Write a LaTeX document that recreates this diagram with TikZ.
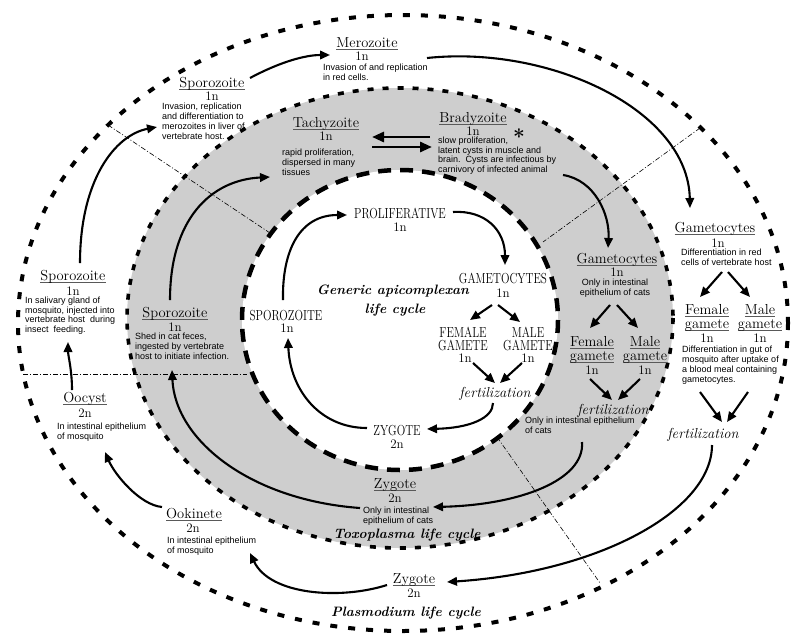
\documentclass[tikz,border=0pt]{standalone}
\usepackage{fontspec}
\usepackage{graphicx}
\newfontfamily\arialf{Liberation Sans}
\usetikzlibrary{arrows.meta}
\definecolor{ringgray}{RGB}{206,206,206}
\newcommand\myul[1]{\setbox0\hbox{#1}\rlap{\color{black!65}\rule[-2.2pt]{\wd0}{0.6pt}}\box0}
\newcommand\hdfont{\fontsize{14.5}{15}\selectfont}
\newcommand\capsc[1]{\scalebox{0.77}[1]{#1}}
\begin{document}
\begin{tikzpicture}[x=1pt,y=-1pt,
  hd/.style={font=\hdfont, anchor=base, inner sep=0pt},
  ploidy/.style={font=\fontsize{13}{14}\selectfont, anchor=base, inner sep=0pt},
  desc/.style={font=\arialf\fontsize{9}{9.8}\selectfont, align=left, anchor=north west, inner sep=0pt},
  descc/.style={desc, align=center, anchor=north},
  ttl/.style={font=\fontsize{13.6}{15}\selectfont\bfseries\itshape, anchor=base, inner sep=0pt},
  fert/.style={font=\hdfont\itshape, anchor=base, inner sep=0pt},
  arr/.style={line width=2.1pt, -{Triangle[length=10pt,width=8.5pt]}},
  darr/.style={line width=2.8pt, -{Triangle[length=12pt,width=10pt]}},
  outerb/.style={line width=4pt, dash pattern=on 7pt off 11pt},
  midb/.style={line width=3.6pt, dash pattern=on 6pt off 9pt},
  innerb/.style={line width=4.5pt, dash pattern=on 13pt off 9pt},
  sect/.style={line width=0.6pt, dash pattern=on 5pt off 2pt on 1pt off 2pt},
]
\useasboundingbox (0,0) rectangle (800,643);
\fill[white] (0,0) rectangle (800,643);
% rings
\draw[outerb] (403,323) ellipse [x radius=385, y radius=308];
\fill[ringgray] (400,318) ellipse [x radius=273, y radius=230];
\draw[midb] (400,318) ellipse [x radius=273, y radius=230];
\fill[white] (400,320) ellipse [x radius=158, y radius=150];
\draw[innerb] (400,320) ellipse [x radius=158, y radius=150];
% section lines
\coordinate (s1a) at (108,125); \coordinate (s1b) at (270,233);
\coordinate (s2a) at (23,374);  \coordinate (s2b) at (247,374);
\coordinate (s3a) at (700,128); \coordinate (s3b) at (543,242);
\coordinate (s4a) at (497,437); \coordinate (s4b) at (600,583);
\draw[sect] (s1a) -- (s1b);
\draw[sect] (s2a) -- (s2b);
\draw[sect] (s3a) -- (s3b);
\draw[sect] (s4a) -- (s4b);

% ---------- Plasmodium ----------
\node[hd] (mero) at (367,47) {\myul{Merozoite}};
\node[ploidy] (mero1) at (362,60) {1n};
\node[desc] (merod) at (323,63.5) {Invasion of and replication\\in red cells.};

\node[hd] (spl) at (212,87.5) {\myul{Sporozoite}};
\node[ploidy] (spl1) at (212,100) {1n};
\node[desc] (spld) at (162,103) {Invasion, replication\\and differentiation to\\merozoites in liver of\\vertebrate host.};

\node[hd] (gamp) at (715,232) {\myul{Gametocytes}};
\node[ploidy] (gamp1) at (718,247) {1n};
\node[desc] (gampd) at (681,249) {Differentiation in red\\cells of vertebrate host};

\node[hd] (fgp) at (707,314.5) {\myul{Female}};
\node[hd] (fgpb) at (707,328) {\myul{gamete}};
\node[ploidy] (fgp1) at (707,342) {1n};
\node[hd] (mgp) at (760,314.5) {\myul{Male}};
\node[hd] (mgpb) at (760,328) {\myul{gamete}};
\node[ploidy] (mgp1) at (760,342) {1n};
\node[desc] (gmpd) at (682,346) {Differentiation in gut of\\mosquito after uptake of\\a blood meal containing\\gametocytes.};
\node[fert] (fertp) at (703,438) {fertilization};

\node[hd] (zygp) at (414,583) {\myul{Zygote}};
\node[ploidy] (zygp2) at (414,597) {2n};
\node[ttl] (plt) at (406,616) {Plasmodium life cycle};

\node[hd] (ook) at (194,518) {\myul{Ookinete}};
\node[ploidy] (ook2) at (193,532) {2n};
\node[desc] (ookd) at (167,537) {In intestinal epithelium\\of mosquito};

\node[hd] (ooc) at (85,402) {\myul{Oocyst}};
\node[ploidy] (ooc2) at (85,417) {2n};
\node[desc] (oocd) at (57,423) {In intestinal epithelium\\of mosquito};

\node[hd] (sps) at (73,280) {\myul{Sporozoite}};
\node[ploidy] (sps1) at (73,295) {1n};
\node[desc] (spsd) at (25,296.5) {In salivary gland of\\mosquito, injected into\\vertebrate host\ \ during\\insect\ \ feeding.};

% ---------- Toxoplasma ----------
\node[hd] (tach) at (326,127) {\myul{Tachyzoite}};
\node[ploidy] (tach1) at (326,140) {1n};
\node[desc] (tachd) at (282,149) {rapid proliferation,\\dispersed in many\\tissues};

\node[hd] (brad) at (473,122) {\myul{Bradyzoite}};
\node[ploidy] (brad1) at (473,135) {1n};
\node[anchor=north, inner sep=0pt, font=\fontsize{21}{21}\selectfont\bfseries] (ast) at (519,129) {*};
\node[desc] (bradd) at (438,136.5) {slow proliferation,\\latent cysts in muscle and\\brain.\ \ Cysts are infectious by\\carnivory of infected animal};

\node[hd] (gamt) at (617,263) {\myul{Gametocytes}};
\node[ploidy] (gamt1) at (617,276) {1n};
\node[descc] (gamtd) at (615,279) {Only in intestinal\\epithelium of cats};

\node[hd] (fgt) at (592,346.5) {\myul{Female}};
\node[hd] (fgtb) at (592,360.5) {\myul{gamete}};
\node[ploidy] (fgt1) at (592,374.5) {1n};
\node[hd] (mgt) at (645,346.5) {\myul{Male}};
\node[hd] (mgtb) at (645,360.5) {\myul{gamete}};
\node[ploidy] (mgt1) at (645,374.5) {1n};
\node[fert] (fertt) at (613,414) {fertilization};
\node[desc] (ferttd) at (525,417) {Only in intestinal epithelium\\of cats};

\node[hd] (zygt) at (395,488) {\myul{Zygote}};
\node[ploidy] (zygt2) at (395,502) {2n};
\node[desc] (zygtd) at (363,507) {Only in intestinal\\epithelium of cats};
\node[ttl] (tlt) at (407,538) {Toxoplasma life cycle};

\node[hd] (spt) at (175,317) {\myul{Sporozoite}};
\node[ploidy] (spt1) at (175,331) {1n};
\node[desc] (sptd) at (135,333) {Shed in cat feces,\\ingested by vertebrate\\host to initiate infection.};

% ---------- Generic ----------
\node[hd] (gprol) at (400,218) {\capsc{PROLIFERATIVE}};
\node[ploidy] (gprol1) at (400,231) {1n};
\node[hd] (ggam) at (503,283) {\capsc{GAMETOCYTES}};
\node[ploidy] (ggam1) at (503,297) {1n};
\node[hd] (gfem) at (463,337) {\capsc{FEMALE}};
\node[hd] (gfemb) at (463,350) {\capsc{GAMETE}};
\node[ploidy] (gfem1) at (465,362.5) {1n};
\node[hd] (gmal) at (528,337) {\capsc{MALE}};
\node[hd] (gmalb) at (528,350) {\capsc{GAMETE}};
\node[ploidy] (gmal1) at (528,362.5) {1n};
\node[fert] (gfert) at (495,397) {fertilization};
\node[hd] (gzyg) at (397,435) {\capsc{ZYGOTE}};
\node[ploidy] (gzyg2) at (397,448) {2n};
\node[hd] (gspo) at (286,320) {\capsc{SPOROZOITE}};
\node[ploidy] (gspo1) at (287,332.5) {1n};
\node[ttl] (gt1) at (393,294) {Generic apicomplexan};
\node[ttl] (gt2) at (395,313) {life cycle};

% ---------- arrows: Plasmodium ----------
\coordinate (p1s) at (250,78);  \coordinate (p1e) at (330,55);
\draw[arr] (p1s) .. controls (280,62) and (305,55) .. (p1e);
\coordinate (p2s) at (427,58);  \coordinate (p2e) at (690,208);
\draw[arr] (p2s) .. controls (550,45) and (688,110) .. (p2e);
\coordinate (p3s) at (80,263);  \coordinate (p3e) at (157,127);
\draw[arr] (p3s) .. controls (80,180) and (115,135) .. (p3e);
\coordinate (p4s) at (72,390);  \coordinate (p4e) at (68,342);
\draw[arr] (p4s) .. controls (72,370) and (68,355) .. (p4e);
\coordinate (p5s) at (162,507); \coordinate (p5e) at (105,452);
\draw[arr] (p5s) .. controls (140,505) and (115,475) .. (p5e);
\coordinate (p6s) at (387,585); \coordinate (p6e) at (250,553);
\draw[arr] (p6s) .. controls (340,600) and (270,595) .. (p6e);
\coordinate (p7s) at (712,445); \coordinate (p7e) at (447,582);
\draw[arr] (p7s) .. controls (712,510) and (600,572) .. (p7e);
\coordinate (p8a) at (722,272); \coordinate (p8b) at (700,297);
\coordinate (p8c) at (728,272); \coordinate (p8d) at (750,297);
\draw[arr] (p8a) -- (p8b);
\draw[arr] (p8c) -- (p8d);
\coordinate (p9a) at (700,392); \coordinate (p9b) at (722,422);
\coordinate (p9c) at (748,392); \coordinate (p9d) at (727,422);
\draw[arr] (p9a) -- (p9b);
\draw[arr] (p9c) -- (p9d);

% ---------- arrows: Toxoplasma ----------
\coordinate (t1s) at (170,300); \coordinate (t1e) at (270,177);
\draw[arr] (t1s) .. controls (170,220) and (210,180) .. (t1e);
\coordinate (t2a) at (430,137); \coordinate (t2b) at (372,137);
\coordinate (t2c) at (372,147); \coordinate (t2d) at (432,147);
\draw[darr] (t2a) -- (t2b);
\draw[darr] (t2c) -- (t2d);
\coordinate (t3s) at (563,175); \coordinate (t3e) at (608,248);
\draw[arr] (t3s) .. controls (595,180) and (610,215) .. (t3e);
\coordinate (t4a) at (610,305); \coordinate (t4b) at (590,328);
\coordinate (t4c) at (617,305); \coordinate (t4d) at (638,328);
\draw[arr] (t4a) -- (t4b);
\draw[arr] (t4c) -- (t4d);
\coordinate (t5a) at (590,379); \coordinate (t5b) at (612,400);
\coordinate (t5c) at (640,379); \coordinate (t5d) at (618,400);
\draw[arr] (t5a) -- (t5b);
\draw[arr] (t5c) -- (t5d);
\coordinate (t6s) at (582,442); \coordinate (t6e) at (433,507);
\draw[arr] (t6s) .. controls (585,480) and (520,505) .. (t6e);
\coordinate (t7s) at (360,508); \coordinate (t7e) at (172,370);
\draw[arr] (t7s) .. controls (250,500) and (175,440) .. (t7e);

% ---------- arrows: Generic ----------
\coordinate (g1s) at (283,300); \coordinate (g1e) at (347,215);
\draw[arr] (g1s) .. controls (282,250) and (300,215) .. (g1e);
\coordinate (g2s) at (453,212); \coordinate (g2e) at (505,265);
\draw[arr] (g2s) .. controls (485,210) and (505,230) .. (g2e);
\coordinate (g3a) at (492,305); \coordinate (g3b) at (470,320);
\coordinate (g3c) at (498,305); \coordinate (g3d) at (520,322);
\draw[arr] (g3a) -- (g3b);
\draw[arr] (g3c) -- (g3d);
\coordinate (g4a) at (473,363); \coordinate (g4b) at (495,383);
\coordinate (g4c) at (522,363); \coordinate (g4d) at (500,383);
\draw[arr] (g4a) -- (g4b);
\draw[arr] (g4c) -- (g4d);
\coordinate (g5s) at (493,403); \coordinate (g5e) at (427,429);
\draw[arr] (g5s) .. controls (493,418) and (470,428) .. (g5e);
\coordinate (g6s) at (367,428); \coordinate (g6e) at (288,338);
\draw[arr] (g6s) .. controls (320,428) and (290,390) .. (g6e);
\end{tikzpicture}
\end{document}
